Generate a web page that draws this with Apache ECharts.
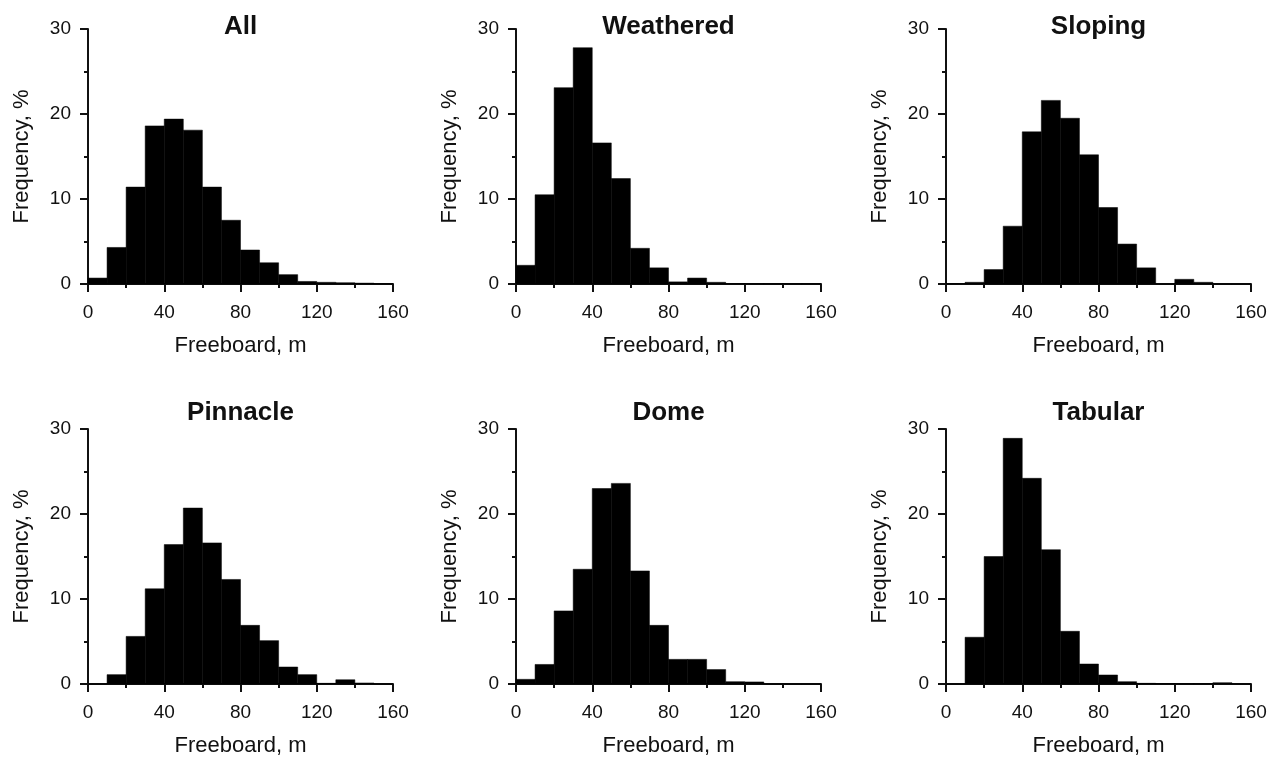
<!DOCTYPE html>
<html>
<head>
<meta charset="utf-8">
<script src="https://cdn.jsdelivr.net/npm/echarts@6/dist/echarts.min.js"></script>
<style>
  html, body { margin: 0; padding: 0; background: #fff; }
  #chart { width: 1277px; height: 763px; }
</style>
</head>
<body>
<div id="chart"></div>
<script>
// bins are 10 m wide, 0..160
var binStart = [0, 10, 20, 30, 40, 50, 60, 70, 80, 90, 100, 110, 120, 130, 140, 150];
var xTicks = [0, 40, 80, 120, 160];
var yTicks = [0, 10, 20, 30];

var panelNames = ['All', 'Weathered', 'Sloping', 'Pinnacle', 'Dome', 'Tabular'];

var allVals       = [0.7, 4.3, 11.4, 18.6, 19.4, 18.1, 11.4, 7.5, 4.0, 2.5, 1.1, 0.3, 0.2, 0.15, 0.1, 0.03];
var weatheredVals = [2.2, 10.5, 23.1, 27.8, 16.6, 12.4, 4.2, 1.9, 0.25, 0.7, 0.2, 0.05, 0.03, 0.03, 0.03, 0.03];
var slopingVals   = [0.05, 0.2, 1.7, 6.8, 17.9, 21.6, 19.5, 15.2, 9.0, 4.7, 1.9, 0, 0.55, 0.2, 0, 0];
var pinnacleVals  = [0, 1.1, 5.6, 11.2, 16.4, 20.7, 16.6, 12.3, 6.9, 5.1, 2.0, 1.1, 0.08, 0.5, 0.12, 0];
var domeVals      = [0.55, 2.3, 8.6, 13.5, 23.0, 23.6, 13.3, 6.9, 2.9, 2.9, 1.7, 0.27, 0.24, 0, 0, 0];
var tabularVals   = [0, 5.5, 15.0, 28.9, 24.2, 15.8, 6.2, 2.35, 1.06, 0.27, 0.08, 0.05, 0.03, 0.03, 0.15, 0];

var panelVals = [allVals, weatheredVals, slopingVals, pinnacleVals, domeVals, tabularVals];

var colLeft = [88, 516, 946];
var rowTop = [29, 429];
var titleTop = [14, 400];
var plotW = 305, plotH = 255;
var ink = '#111';
var fontFam = 'Liberation Sans, Arial, sans-serif';

function renderBar(params, api) {
    var p0 = api.coord([api.value(0), api.value(2)]);
    var p1 = api.coord([api.value(1), 0]);
    return {
        type: 'rect',
        shape: { x: p0[0], y: p0[1], width: p1[0] - p0[0], height: p1[1] - p0[1] },
        style: { fill: '#000', stroke: '#000', lineWidth: 0.5 }
    };
}

var grids = [], xAxes = [], yAxes = [], series = [], titles = [];
for (var i = 0; i < 6; i++) {
    var c = i % 3, r = Math.floor(i / 3);
    grids.push({ left: colLeft[c], top: rowTop[r], width: plotW, height: plotH });
    titles.push({
        text: panelNames[i],
        left: colLeft[c] + plotW / 2,
        top: titleTop[r],
        textAlign: 'center',
        padding: 0,
        textStyle: { fontFamily: fontFam, fontSize: 26, fontWeight: 'bold', color: ink }
    });
    xAxes.push({
        gridIndex: i,
        type: 'value',
        min: xTicks[0],
        max: xTicks[xTicks.length - 1],
        interval: 40,
        name: 'Freeboard, m',
        nameLocation: 'middle',
        nameGap: 51,
        nameTextStyle: { fontFamily: fontFam, fontSize: 22, color: ink },
        axisLine: { lineStyle: { color: ink, width: 2 } },
        axisTick: { show: true, length: 8, lineStyle: { color: ink, width: 2 } },
        minorTick: { show: true, splitNumber: 2, length: 4, lineStyle: { color: ink, width: 2 } },
        axisLabel: { margin: 19, fontFamily: fontFam, fontSize: 19, color: ink },
        splitLine: { show: false }
    });
    yAxes.push({
        gridIndex: i,
        type: 'value',
        min: yTicks[0],
        max: yTicks[yTicks.length - 1],
        interval: 10,
        name: 'Frequency, %',
        nameLocation: 'middle',
        nameGap: 55,
        nameTextStyle: { fontFamily: fontFam, fontSize: 22, color: ink },
        axisLine: { show: true, lineStyle: { color: ink, width: 2 } },
        axisTick: { show: true, length: 8, lineStyle: { color: ink, width: 2 } },
        minorTick: { show: true, splitNumber: 2, length: 4, lineStyle: { color: ink, width: 2 } },
        axisLabel: { margin: 17, fontFamily: fontFam, fontSize: 19, color: ink },
        splitLine: { show: false }
    });
    var rows = [];
    for (var k = 0; k < binStart.length; k++) {
        rows.push([binStart[k], binStart[k] + 10, panelVals[i][k]]);
    }
    series.push({
        type: 'custom',
        xAxisIndex: i,
        yAxisIndex: i,
        renderItem: renderBar,
        encode: { x: [0, 1], y: 2 },
        data: rows,
        silent: true
    });
}

var myChart = echarts.init(document.getElementById('chart'));
myChart.setOption({
    backgroundColor: '#fff',
    animation: false,
    title: titles,
    grid: grids,
    xAxis: xAxes,
    yAxis: yAxes,
    series: series
});
</script>
</body>
</html>
